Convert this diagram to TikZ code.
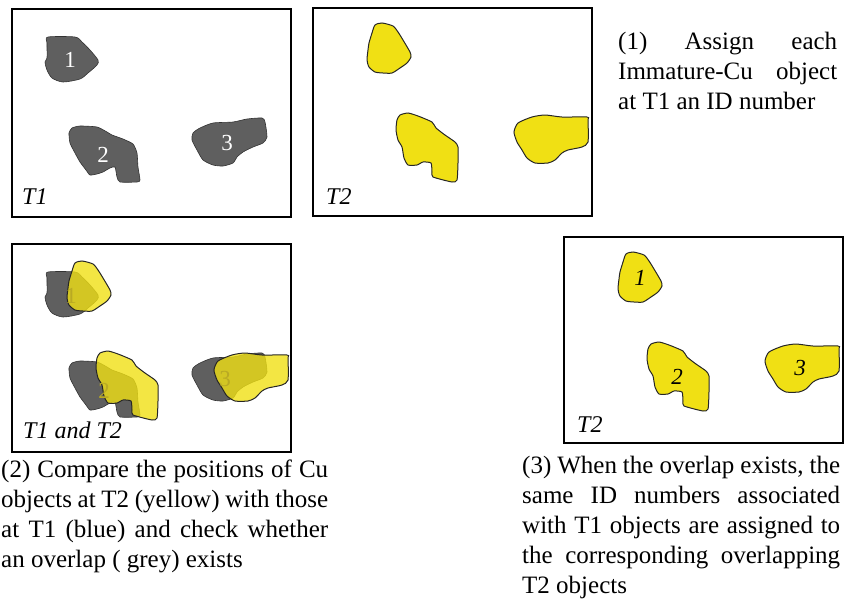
\documentclass[tikz,border=0pt]{standalone}
\usepackage{fontspec}
\setmainfont{Liberation Serif}
\definecolor{cugrey}{RGB}{95,95,95}
\definecolor{cuyellow}{RGB}{240,224,20}
\definecolor{olivenum}{RGB}{185,170,35}
\newcommand\tbAone{plot[smooth cycle,tension=0.45] coordinates {(36,28) (63,28) (70,33) (78,41) (86,51) (85,56) (76,64) (68,70) (51,73) (40,69) (35,61) (33,53) (35,49) (35,34)}}
\newcommand\tbAtwo{plot[smooth cycle,tension=0.35] coordinates {(60,119) (68,117) (85,118) (95,123) (100,126) (111,130) (121,135) (125,144) (126,158) (128,171) (125,173) (108,173) (105,168) (103,158) (98,159) (91,163) (85,165) (78,166) (74,161) (68,153) (63,144) (58,134) (57,124)}}
\newcommand\tbAthree{plot[smooth cycle,tension=0.4] coordinates {(181,124) (188,119) (201,114) (221,113) (235,110) (250,109) (253,113) (255,128) (251,134) (241,138) (231,143) (225,148) (221,154) (211,157) (201,156) (191,151) (185,141) (180,131)}}
\newcommand\tbBone{plot[smooth cycle,tension=0.4] coordinates {(62,17) (69,15) (80,18) (85,24) (90,32) (97,44) (98,49) (94,55) (87,60) (79,65) (70,65) (62,64) (56,59) (54,52) (55,42) (56,35) (59,25)}}
\newcommand\tbBtwo{plot[smooth cycle,tension=0.35] coordinates {(87,107) (95,105) (105,108) (119,114) (123,120) (132,127) (142,134) (145,139) (145,155) (144,172) (139,174) (120,169) (119,164) (118,155) (110,154) (104,157) (95,157) (91,150) (89,139) (85,132) (83,122) (84,112)}}
\newcommand\tbBthree{plot[smooth cycle,tension=0.4] coordinates {(205,115) (219,109) (232,107) (249,109) (274,109) (275,112) (275,134) (269,139) (255,142) (249,145) (242,152) (235,155) (222,155) (214,150) (209,142) (204,134) (201,124)}}
\tikzset{
  frame/.style={draw=black,line width=2.6pt},
  greyblob/.style={fill=cugrey,draw=black!80,line width=0.6pt},
  yellowblob/.style={fill=cuyellow,draw=black!85,line width=1pt},
  yellowover/.style={fill=cuyellow,fill opacity=0.8,draw=black!85,line width=1pt},
  tlabel/.style={anchor=base west,inner sep=0pt,font=\fontsize{24}{28}\selectfont\itshape},
  whitenum/.style={text=white,inner sep=0pt,font=\fontsize{23}{28}\selectfont},
  italnum/.style={text=black,inner sep=0pt,font=\fontsize{23}{28}\selectfont\itshape},
  overnum/.style={text=olivenum,inner sep=0pt,font=\fontsize{23}{28}\selectfont},
  caption/.style={anchor=north west,inner sep=0pt,align=justify,font=\fontsize{25}{30}\selectfont}
}
\begin{document}
\begin{tikzpicture}[x=1pt,y=-1pt]
\useasboundingbox (0,0) rectangle (852,600);
% Panel T1
\begin{scope}[shift={(12,9)}]
  \draw[greyblob] \tbAone;
  \draw[greyblob] \tbAtwo;
  \draw[greyblob] \tbAthree;
  \node[whitenum] (n1a) at (58,51) {1};
  \node[whitenum] (n1b) at (91,146) {2};
  \node[whitenum] (n1c) at (215,134) {3};
  \node[tlabel] (lt1) at (10,195) {T1};
  \draw[frame] (0,0) rectangle (279,208);
\end{scope}
% Panel T2 (top)
\begin{scope}[shift={(313,8)}]
  \draw[yellowblob] \tbBone;
  \draw[yellowblob] \tbBtwo;
  \draw[yellowblob] \tbBthree;
  \node[tlabel] (lt2) at (13,196) {T2};
  \draw[frame] (0,0) rectangle (279,208);
\end{scope}
% Panel T1 and T2
\begin{scope}[shift={(12,244)}]
  \draw[greyblob] \tbAone;
  \draw[greyblob] \tbAtwo;
  \draw[greyblob] \tbAthree;
  \begin{scope}[shift={(1,2)}]
    \draw[yellowover] \tbBone;
    \draw[yellowover] \tbBtwo;
    \draw[yellowover] \tbBthree;
  \end{scope}
  \node[overnum] (n3a) at (59,52) {1};
  \node[overnum] (n3b) at (92,147) {2};
  \node[overnum] (n3c) at (213,135) {3};
  \node[tlabel] (lt12) at (11,194) {T1 and T2};
  \draw[frame] (0,0) rectangle (279,208);
\end{scope}
% Panel T2 (bottom, numbered)
\begin{scope}[shift={(564,237)}]
  \draw[yellowblob] \tbBone;
  \draw[yellowblob] \tbBtwo;
  \draw[yellowblob] \tbBthree;
  \node[italnum] (n4a) at (76,41) {1};
  \node[italnum] (n4b) at (113,140) {2};
  \node[italnum] (n4c) at (236,131) {3};
  \node[tlabel] (lt2b) at (13,195) {T2};
  \draw[frame] (0,0) rectangle (279,206);
\end{scope}
% Captions
\node[caption,text width=219pt] (cap1) at (618,32) {(1) Assign each\linebreak Immature-Cu object\linebreak at T1 an ID number};
\node[caption,text width=327pt] (cap2) at (1,460) {(2) Compare the positions of Cu\linebreak objects at T2 (yellow) with those\linebreak at T1 (blue) and check whether\linebreak an overlap ( grey) exists};
\node[caption,text width=318pt] (cap3) at (522,456) {(3) When the overlap exists, the\linebreak same ID numbers associated\linebreak with T1 objects are assigned to\linebreak the corresponding overlapping\linebreak T2 objects};
\end{tikzpicture}
\end{document}
